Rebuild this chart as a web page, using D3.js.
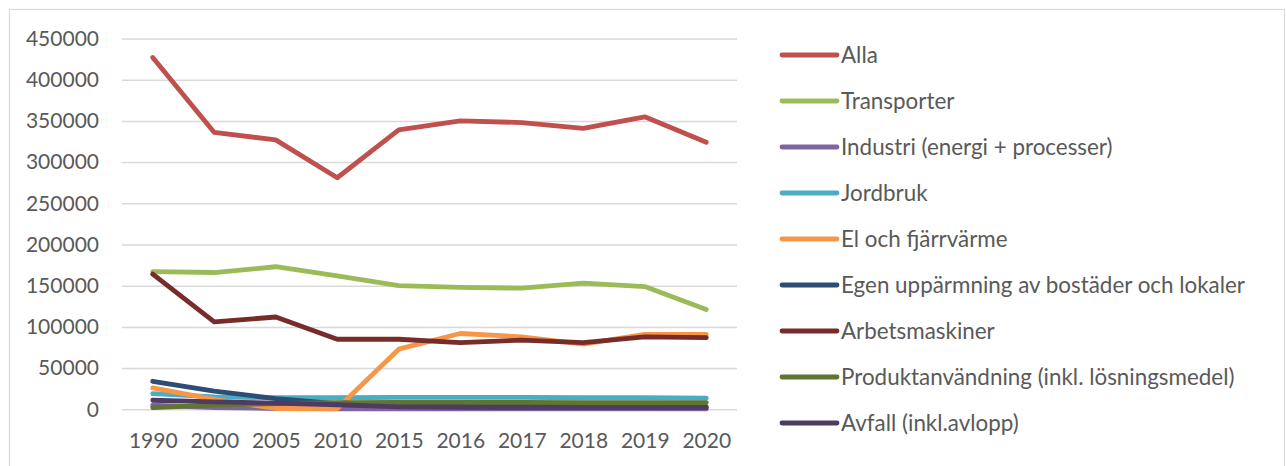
<!DOCTYPE html>
<html>
<head>
<meta charset="utf-8">
<script src="https://cdn.jsdelivr.net/npm/d3@7"></script>
<style>
  body { margin: 0; background: #fff; }
  svg { display: block; font-family: Lato, "Open Sans", sans-serif; }
</style>
</head>
<body>
<svg id="chart" width="1286" height="466"></svg>
<script>
const years = ["1990", "2000", "2005", "2010", "2015", "2016", "2017", "2018", "2019", "2020"]
const yTicks = [0, 50000, 100000, 150000, 200000, 250000, 300000, 350000, 400000, 450000]

const alla = [427000, 336000, 327000, 281000, 339000, 350000, 348000, 341000, 355000, 324000]
const transporter = [167000, 166000, 173000, 162000, 150000, 148000, 147000, 153000, 149000, 121000]
const industri = [5000, 2000, 1000, 500, 500, 500, 500, 500, 500, 500]
const jordbruk = [19000, 15000, 14000, 14000, 14500, 14500, 14500, 14000, 14000, 13500]
const elFjarrvarme = [26000, 12000, 1000, 1000, 73000, 92000, 88000, 79000, 91000, 91000]
const egenUppvarmning = [34000, 22000, 13000, 7000, 5000, 4500, 4000, 4000, 3500, 3000]
const arbetsmaskiner = [164000, 106000, 112000, 85000, 85000, 81000, 84000, 81000, 88000, 87000]
const produktanvandning = [2000, 5000, 7000, 8000, 8500, 8500, 8500, 8000, 8000, 8000]
const avfall = [11000, 9000, 7500, 5500, 3000, 2500, 2000, 2000, 2000, 2000]

const series = [
  { name: "Alla", values: alla, color: "#C0504D" },
  { name: "Transporter", values: transporter, color: "#9BBB59" },
  { name: "Industri (energi + processer)", values: industri, color: "#8064A2" },
  { name: "Jordbruk", values: jordbruk, color: "#4BACC6" },
  { name: "El och fjärrvärme", values: elFjarrvarme, color: "#F79646" },
  { name: "Egen uppärmning av bostäder och lokaler", values: egenUppvarmning, color: "#2C4D75" },
  { name: "Arbetsmaskiner", values: arbetsmaskiner, color: "#772C2A" },
  { name: "Produktanvändning (inkl. lösningsmedel)", values: produktanvandning, color: "#5F7530" },
  { name: "Avfall (inkl.avlopp)", values: avfall, color: "#4D3B62" }
]

const svg = d3.select("#chart")
const textColor = "#595959"

// outer frame
svg.append("rect")
  .attr("x", 9.5).attr("y", 9.5)
  .attr("width", 1275).attr("height", 470)
  .attr("fill", "none")
  .attr("stroke", "#d9d9d9")
  .attr("stroke-width", 1.2)

const plotLeft = 122, plotRight = 737, plotTop = 38.5, plotBottom = 409.3

const x = d3.scalePoint()
  .domain(years)
  .range([plotLeft, plotRight])
  .padding(0.5)

const y = d3.scaleLinear()
  .domain([0, 450000])
  .range([plotBottom, plotTop])

// y axis with gridlines
const yAxis = svg.append("g")
  .attr("transform", `translate(${plotLeft},0)`)
  .call(d3.axisLeft(y)
    .tickValues(yTicks)
    .tickFormat(d3.format("d"))
    .tickSize(-(plotRight - plotLeft))
    .tickPadding(23))

yAxis.select(".domain").remove()
yAxis.selectAll(".tick line").attr("stroke", "#d9d9d9").attr("stroke-width", 1.5)
yAxis.selectAll(".tick text")
  .attr("fill", textColor)
  .attr("font-size", "21px")
  .attr("font-family", "Lato, 'Open Sans', sans-serif")

// x axis
const xAxis = svg.append("g")
  .attr("transform", `translate(0,${plotBottom})`)
  .call(d3.axisBottom(x).tickSize(0).tickPadding(24))

xAxis.select(".domain").remove()
xAxis.selectAll(".tick text")
  .attr("fill", textColor)
  .attr("font-size", "21px")
  .attr("font-family", "Lato, 'Open Sans', sans-serif")

// lines
const line = d3.line()
  .x((d, i) => x(years[i]))
  .y(d => y(d))

svg.append("g")
  .selectAll("path")
  .data(series)
  .join("path")
  .attr("d", d => line(d.values))
  .attr("fill", "none")
  .attr("stroke", d => d.color)
  .attr("stroke-width", 4.8)
  .attr("stroke-linecap", "round")
  .attr("stroke-linejoin", "round")

// legend
const legend = svg.append("g")
  .attr("transform", "translate(782,55)")

series.forEach((s, i) => {
  const row = legend.append("g")
    .attr("transform", `translate(0,${i * 46})`)

  row.append("line")
    .attr("x1", 0).attr("x2", 55)
    .attr("stroke", s.color)
    .attr("stroke-width", 4.8)
    .attr("stroke-linecap", "round")

  row.append("text")
    .attr("x", 59)
    .attr("dy", "0.36em")
    .attr("font-size", "22.4px")
    .attr("fill", textColor)
    .text(s.name)
})
</script>
</body>
</html>
